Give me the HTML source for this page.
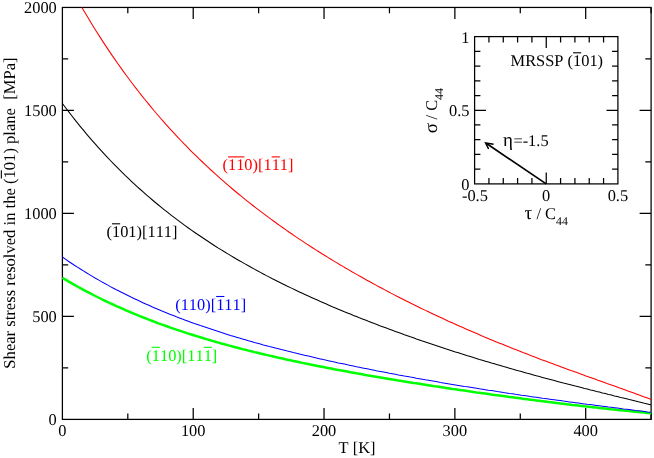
<!DOCTYPE html>
<html><head><meta charset="utf-8"><title>Shear stress vs T</title>
<style>
html,body{margin:0;padding:0;background:#fff;overflow:hidden;}
svg{display:block;}
text{font-kerning:none;text-rendering:geometricPrecision;font-family:"Liberation Serif",serif;font-size:16.4px;fill:#000;}
</style></head><body>
<svg width="654" height="458" viewBox="0 0 654 458">
<rect width="654" height="458" fill="#fff"/>
<g style="mix-blend-mode:multiply">
<g stroke="#000" stroke-width="1.25" fill="none">
<rect x="62.4" y="7.45" width="588.7" height="411.95"/>
<path d="M127.81,419.4v-5.8M127.81,7.45v5.8M193.22,419.4v-11.5M193.22,7.45v11.5M258.63,419.4v-5.8M258.63,7.45v5.8M324.04,419.4v-11.5M324.04,7.45v11.5M389.46,419.4v-5.8M389.46,7.45v5.8M454.87,419.4v-11.5M454.87,7.45v11.5M520.28,419.4v-5.8M520.28,7.45v5.8M585.69,419.4v-11.5M585.69,7.45v11.5M651.10,419.4v-5.8M651.10,7.45v5.8M62.4,367.91h5.8M651.1,367.91h-5.8M62.4,316.41h11.5M651.1,316.41h-11.5M62.4,264.92h5.8M651.1,264.92h-5.8M62.4,213.42h11.5M651.1,213.42h-11.5M62.4,161.93h5.8M651.1,161.93h-5.8M62.4,110.44h11.5M651.1,110.44h-11.5M62.4,58.94h5.8M651.1,58.94h-5.8"/>
</g>
<path d="M62.4,277.8 L65.4,279.6 L68.4,281.4 L71.4,283.1 L74.4,284.8 L77.4,286.5 L80.4,288.1 L83.4,289.8 L86.4,291.4 L89.4,292.9 L92.4,294.5 L95.4,296.0 L98.4,297.5 L101.4,299.0 L104.4,300.5 L107.4,301.9 L110.4,303.3 L113.4,304.7 L116.4,306.1 L119.4,307.4 L122.4,308.7 L125.4,310.1 L128.4,311.3 L131.4,312.6 L134.4,313.9 L137.4,315.1 L140.4,316.3 L143.4,317.5 L146.4,318.7 L149.4,319.9 L152.4,321.0 L155.4,322.1 L158.4,323.3 L161.4,324.4 L164.4,325.4 L167.4,326.5 L170.4,327.6 L173.4,328.6 L176.4,329.6 L179.4,330.6 L182.4,331.6 L185.4,332.6 L188.4,333.6 L191.4,334.5 L194.4,335.5 L197.4,336.4 L200.4,337.3 L203.4,338.2 L206.4,339.1 L209.4,340.0 L212.4,340.9 L215.4,341.8 L218.4,342.6 L221.4,343.5 L224.4,344.3 L227.4,345.1 L230.4,345.9 L233.4,346.7 L236.4,347.5 L239.4,348.3 L242.4,349.1 L245.4,349.8 L248.4,350.6 L251.4,351.3 L254.4,352.1 L257.4,352.8 L260.4,353.5 L263.4,354.2 L266.4,354.9 L269.4,355.6 L272.4,356.3 L275.4,357.0 L278.4,357.7 L281.4,358.3 L284.4,359.0 L287.4,359.7 L290.4,360.3 L293.4,361.0 L296.4,361.6 L299.4,362.2 L302.4,362.9 L305.4,363.5 L308.4,364.1 L311.4,364.7 L314.4,365.3 L317.4,365.9 L320.4,366.5 L323.4,367.1 L326.4,367.7 L329.4,368.2 L332.4,368.8 L335.4,369.4 L338.4,370.0 L341.4,370.5 L344.4,371.1 L347.4,371.6 L350.4,372.2 L353.4,372.7 L356.4,373.3 L359.4,373.8 L362.4,374.3 L365.4,374.9 L368.4,375.4 L371.4,375.9 L374.4,376.4 L377.4,376.9 L380.4,377.4 L383.4,378.0 L386.4,378.5 L389.4,379.0 L392.4,379.5 L395.4,380.0 L398.4,380.5 L401.4,380.9 L404.4,381.4 L407.4,381.9 L410.4,382.4 L413.4,382.9 L416.4,383.3 L419.4,383.8 L422.4,384.3 L425.4,384.8 L428.4,385.2 L431.4,385.7 L434.4,386.2 L437.4,386.6 L440.4,387.1 L443.4,387.5 L446.4,388.0 L449.4,388.4 L452.4,388.9 L455.4,389.3 L458.4,389.8 L461.4,390.2 L464.4,390.6 L467.4,391.1 L470.4,391.5 L473.4,391.9 L476.4,392.4 L479.4,392.8 L482.4,393.2 L485.4,393.6 L488.4,394.0 L491.4,394.5 L494.4,394.9 L497.4,395.3 L500.4,395.7 L503.4,396.1 L506.4,396.5 L509.4,396.9 L512.4,397.3 L515.4,397.7 L518.4,398.1 L521.4,398.5 L524.4,398.9 L527.4,399.3 L530.4,399.7 L533.4,400.1 L536.4,400.4 L539.4,400.8 L542.4,401.2 L545.4,401.6 L548.4,402.0 L551.4,402.3 L554.4,402.7 L557.4,403.1 L560.4,403.4 L563.4,403.8 L566.4,404.2 L569.4,404.5 L572.4,404.9 L575.4,405.2 L578.4,405.6 L581.4,405.9 L584.4,406.3 L587.4,406.6 L590.4,406.9 L593.4,407.3 L596.4,407.6 L599.4,408.0 L602.4,408.3 L605.4,408.6 L608.4,408.9 L611.4,409.3 L614.4,409.6 L617.4,409.9 L620.4,410.2 L623.4,410.5 L626.4,410.8 L629.4,411.1 L632.4,411.4 L635.4,411.7 L638.4,412.0 L641.4,412.3 L644.4,412.6 L647.4,412.9 L650.4,413.2 L651.1,413.3" stroke="#0f0" stroke-width="2.5" fill="none"/>
<path d="M81.9,7.5 L84.9,12.6 L87.9,17.6 L90.9,22.5 L93.9,27.4 L96.9,32.2 L99.9,36.9 L102.9,41.6 L105.9,46.1 L108.9,50.6 L111.9,55.1 L114.9,59.4 L117.9,63.7 L120.9,67.9 L123.9,72.1 L126.9,76.2 L129.9,80.2 L132.9,84.2 L135.9,88.1 L138.9,92.0 L141.9,95.8 L144.9,99.5 L147.9,103.2 L150.9,106.9 L153.9,110.5 L156.9,114.0 L159.9,117.5 L162.9,120.9 L165.9,124.3 L168.9,127.6 L171.9,130.9 L174.9,134.2 L177.9,137.4 L180.9,140.5 L183.9,143.7 L186.9,146.7 L189.9,149.8 L192.9,152.8 L195.9,155.7 L198.9,158.7 L201.9,161.5 L204.9,164.4 L207.9,167.2 L210.9,170.0 L213.9,172.7 L216.9,175.4 L219.9,178.1 L222.9,180.7 L225.9,183.3 L228.9,185.9 L231.9,188.5 L234.9,191.0 L237.9,193.5 L240.9,195.9 L243.9,198.4 L246.9,200.8 L249.9,203.2 L252.9,205.5 L255.9,207.9 L258.9,210.2 L261.9,212.4 L264.9,214.7 L267.9,216.9 L270.9,219.2 L273.9,221.3 L276.9,223.5 L279.9,225.7 L282.9,227.8 L285.9,229.9 L288.9,232.0 L291.9,234.0 L294.9,236.1 L297.9,238.1 L300.9,240.1 L303.9,242.1 L306.9,244.1 L309.9,246.0 L312.9,248.0 L315.9,249.9 L318.9,251.8 L321.9,253.7 L324.9,255.5 L327.9,257.4 L330.9,259.2 L333.9,261.1 L336.9,262.9 L339.9,264.7 L342.9,266.4 L345.9,268.2 L348.9,269.9 L351.9,271.7 L354.9,273.4 L357.9,275.1 L360.9,276.8 L363.9,278.5 L366.9,280.2 L369.9,281.8 L372.9,283.5 L375.9,285.1 L378.9,286.7 L381.9,288.3 L384.9,289.9 L387.9,291.5 L390.9,293.1 L393.9,294.6 L396.9,296.2 L399.9,297.7 L402.9,299.2 L405.9,300.8 L408.9,302.3 L411.9,303.8 L414.9,305.2 L417.9,306.7 L420.9,308.2 L423.9,309.6 L426.9,311.1 L429.9,312.5 L432.9,313.9 L435.9,315.3 L438.9,316.7 L441.9,318.1 L444.9,319.5 L447.9,320.9 L450.9,322.2 L453.9,323.6 L456.9,324.9 L459.9,326.3 L462.9,327.6 L465.9,328.9 L468.9,330.2 L471.9,331.5 L474.9,332.8 L477.9,334.1 L480.9,335.4 L483.9,336.7 L486.9,337.9 L489.9,339.2 L492.9,340.4 L495.9,341.7 L498.9,342.9 L501.9,344.1 L504.9,345.3 L507.9,346.5 L510.9,347.7 L513.9,348.9 L516.9,350.1 L519.9,351.3 L522.9,352.5 L525.9,353.6 L528.9,354.8 L531.9,355.9 L534.9,357.1 L537.9,358.2 L540.9,359.4 L543.9,360.5 L546.9,361.6 L549.9,362.7 L552.9,363.8 L555.9,365.0 L558.9,366.1 L561.9,367.2 L564.9,368.3 L567.9,369.4 L570.9,370.5 L573.9,371.5 L576.9,372.6 L579.9,373.7 L582.9,374.8 L585.9,375.9 L588.9,376.9 L591.9,378.0 L594.9,379.1 L597.9,380.2 L600.9,381.2 L603.9,382.3 L606.9,383.4 L609.9,384.4 L612.9,385.5 L615.9,386.6 L618.9,387.7 L621.9,388.7 L624.9,389.8 L627.9,390.9 L630.9,392.0 L633.9,393.1 L636.9,394.2 L639.9,395.3 L642.9,396.4 L645.9,397.5 L648.9,398.6 L651.1,399.4" stroke="#f00" stroke-width="1.05" fill="none"/>
<path d="M62.4,103.5 L65.4,107.5 L68.4,111.4 L71.4,115.3 L74.4,119.1 L77.4,122.9 L80.4,126.6 L83.4,130.2 L86.4,133.8 L89.4,137.3 L92.4,140.8 L95.4,144.2 L98.4,147.6 L101.4,150.9 L104.4,154.1 L107.4,157.3 L110.4,160.5 L113.4,163.6 L116.4,166.6 L119.4,169.7 L122.4,172.6 L125.4,175.6 L128.4,178.4 L131.4,181.3 L134.4,184.1 L137.4,186.8 L140.4,189.5 L143.4,192.2 L146.4,194.8 L149.4,197.4 L152.4,200.0 L155.4,202.5 L158.4,205.0 L161.4,207.4 L164.4,209.8 L167.4,212.2 L170.4,214.6 L173.4,216.9 L176.4,219.1 L179.4,221.4 L182.4,223.6 L185.4,225.8 L188.4,228.0 L191.4,230.1 L194.4,232.2 L197.4,234.3 L200.4,236.3 L203.4,238.3 L206.4,240.3 L209.4,242.3 L212.4,244.2 L215.4,246.2 L218.4,248.1 L221.4,249.9 L224.4,251.8 L227.4,253.6 L230.4,255.4 L233.4,257.2 L236.4,259.0 L239.4,260.7 L242.4,262.4 L245.4,264.1 L248.4,265.8 L251.4,267.5 L254.4,269.1 L257.4,270.8 L260.4,272.4 L263.4,274.0 L266.4,275.6 L269.4,277.1 L272.4,278.7 L275.4,280.2 L278.4,281.7 L281.4,283.2 L284.4,284.7 L287.4,286.2 L290.4,287.6 L293.4,289.1 L296.4,290.5 L299.4,291.9 L302.4,293.3 L305.4,294.7 L308.4,296.1 L311.4,297.4 L314.4,298.8 L317.4,300.1 L320.4,301.5 L323.4,302.8 L326.4,304.1 L329.4,305.4 L332.4,306.7 L335.4,307.9 L338.4,309.2 L341.4,310.4 L344.4,311.7 L347.4,312.9 L350.4,314.1 L353.4,315.4 L356.4,316.6 L359.4,317.8 L362.4,318.9 L365.4,320.1 L368.4,321.3 L371.4,322.4 L374.4,323.6 L377.4,324.7 L380.4,325.9 L383.4,327.0 L386.4,328.1 L389.4,329.2 L392.4,330.3 L395.4,331.4 L398.4,332.5 L401.4,333.6 L404.4,334.7 L407.4,335.7 L410.4,336.8 L413.4,337.8 L416.4,338.9 L419.4,339.9 L422.4,341.0 L425.4,342.0 L428.4,343.0 L431.4,344.0 L434.4,345.0 L437.4,346.0 L440.4,347.0 L443.4,348.0 L446.4,349.0 L449.4,349.9 L452.4,350.9 L455.4,351.9 L458.4,352.8 L461.4,353.8 L464.4,354.7 L467.4,355.7 L470.4,356.6 L473.4,357.5 L476.4,358.4 L479.4,359.4 L482.4,360.3 L485.4,361.2 L488.4,362.1 L491.4,363.0 L494.4,363.8 L497.4,364.7 L500.4,365.6 L503.4,366.5 L506.4,367.3 L509.4,368.2 L512.4,369.1 L515.4,369.9 L518.4,370.8 L521.4,371.6 L524.4,372.4 L527.4,373.3 L530.4,374.1 L533.4,374.9 L536.4,375.8 L539.4,376.6 L542.4,377.4 L545.4,378.2 L548.4,379.0 L551.4,379.8 L554.4,380.6 L557.4,381.4 L560.4,382.2 L563.4,383.0 L566.4,383.7 L569.4,384.5 L572.4,385.3 L575.4,386.1 L578.4,386.8 L581.4,387.6 L584.4,388.4 L587.4,389.1 L590.4,389.9 L593.4,390.6 L596.4,391.4 L599.4,392.1 L602.4,392.9 L605.4,393.6 L608.4,394.4 L611.4,395.1 L614.4,395.9 L617.4,396.6 L620.4,397.4 L623.4,398.1 L626.4,398.8 L629.4,399.6 L632.4,400.3 L635.4,401.0 L638.4,401.8 L641.4,402.5 L644.4,403.3 L647.4,404.0 L650.4,404.7 L651.1,404.9" stroke="#000" stroke-width="1.05" fill="none"/>
<path d="M62.4,257.0 L65.4,259.1 L68.4,261.2 L71.4,263.2 L74.4,265.2 L77.4,267.1 L80.4,269.0 L83.4,270.9 L86.4,272.8 L89.4,274.6 L92.4,276.4 L95.4,278.2 L98.4,279.9 L101.4,281.6 L104.4,283.3 L107.4,284.9 L110.4,286.6 L113.4,288.2 L116.4,289.8 L119.4,291.3 L122.4,292.8 L125.4,294.3 L128.4,295.8 L131.4,297.3 L134.4,298.7 L137.4,300.1 L140.4,301.5 L143.4,302.9 L146.4,304.3 L149.4,305.6 L152.4,306.9 L155.4,308.2 L158.4,309.5 L161.4,310.8 L164.4,312.0 L167.4,313.2 L170.4,314.4 L173.4,315.6 L176.4,316.8 L179.4,317.9 L182.4,319.1 L185.4,320.2 L188.4,321.3 L191.4,322.4 L194.4,323.5 L197.4,324.5 L200.4,325.6 L203.4,326.6 L206.4,327.6 L209.4,328.6 L212.4,329.6 L215.4,330.6 L218.4,331.6 L221.4,332.6 L224.4,333.5 L227.4,334.4 L230.4,335.4 L233.4,336.3 L236.4,337.2 L239.4,338.1 L242.4,338.9 L245.4,339.8 L248.4,340.7 L251.4,341.5 L254.4,342.4 L257.4,343.2 L260.4,344.0 L263.4,344.9 L266.4,345.7 L269.4,346.5 L272.4,347.2 L275.4,348.0 L278.4,348.8 L281.4,349.6 L284.4,350.3 L287.4,351.1 L290.4,351.8 L293.4,352.6 L296.4,353.3 L299.4,354.0 L302.4,354.7 L305.4,355.4 L308.4,356.1 L311.4,356.8 L314.4,357.5 L317.4,358.2 L320.4,358.9 L323.4,359.6 L326.4,360.2 L329.4,360.9 L332.4,361.6 L335.4,362.2 L338.4,362.9 L341.4,363.5 L344.4,364.1 L347.4,364.8 L350.4,365.4 L353.4,366.0 L356.4,366.7 L359.4,367.3 L362.4,367.9 L365.4,368.5 L368.4,369.1 L371.4,369.7 L374.4,370.3 L377.4,370.9 L380.4,371.4 L383.4,372.0 L386.4,372.6 L389.4,373.2 L392.4,373.7 L395.4,374.3 L398.4,374.9 L401.4,375.4 L404.4,376.0 L407.4,376.5 L410.4,377.1 L413.4,377.6 L416.4,378.2 L419.4,378.7 L422.4,379.2 L425.4,379.8 L428.4,380.3 L431.4,380.8 L434.4,381.3 L437.4,381.8 L440.4,382.4 L443.4,382.9 L446.4,383.4 L449.4,383.9 L452.4,384.4 L455.4,384.9 L458.4,385.4 L461.4,385.9 L464.4,386.4 L467.4,386.8 L470.4,387.3 L473.4,387.8 L476.4,388.3 L479.4,388.8 L482.4,389.2 L485.4,389.7 L488.4,390.2 L491.4,390.6 L494.4,391.1 L497.4,391.6 L500.4,392.0 L503.4,392.5 L506.4,392.9 L509.4,393.4 L512.4,393.8 L515.4,394.3 L518.4,394.7 L521.4,395.2 L524.4,395.6 L527.4,396.0 L530.4,396.5 L533.4,396.9 L536.4,397.3 L539.4,397.7 L542.4,398.2 L545.4,398.6 L548.4,399.0 L551.4,399.4 L554.4,399.8 L557.4,400.2 L560.4,400.6 L563.4,401.1 L566.4,401.5 L569.4,401.9 L572.4,402.3 L575.4,402.7 L578.4,403.1 L581.4,403.5 L584.4,403.9 L587.4,404.3 L590.4,404.6 L593.4,405.0 L596.4,405.4 L599.4,405.8 L602.4,406.2 L605.4,406.6 L608.4,407.0 L611.4,407.3 L614.4,407.7 L617.4,408.1 L620.4,408.5 L623.4,408.9 L626.4,409.2 L629.4,409.6 L632.4,410.0 L635.4,410.4 L638.4,410.7 L641.4,411.1 L644.4,411.5 L647.4,411.9 L650.4,412.2 L651.1,412.3" stroke="#00f" stroke-width="1.05" fill="none"/>
<text x="62.4" y="436.2" text-anchor="middle">0</text>
<text x="193.2" y="436.2" text-anchor="middle">100</text>
<text x="324.0" y="436.2" text-anchor="middle">200</text>
<text x="454.9" y="436.2" text-anchor="middle">300</text>
<text x="585.7" y="436.2" text-anchor="middle">400</text>
<text x="56.8" y="425.3" text-anchor="end">0</text>
<text x="56.8" y="322.3" text-anchor="end">500</text>
<text x="56.8" y="219.3" text-anchor="end">1000</text>
<text x="56.8" y="116.3" text-anchor="end">1500</text>
<text x="56.8" y="13.3" text-anchor="end">2000</text>
<text x="357" y="453.3" text-anchor="middle">T [K]</text>
<g transform="translate(14.9,213) rotate(-90)"><text x="-155.64" y="0" xml:space="preserve" style="font-size:16.58px">Shear stress resolved in the (101) plane  [MPa]</text><path d="M34.54,-13.55h8.29" stroke="#000" stroke-width="1.1"/></g>
<text x="222.5" y="170.3" style="fill:#f00" xml:space="preserve">(110)[111]</text><path d="M227.96,156.90h16.40" stroke="#f00" stroke-width="1.1" fill="none"/><path d="M271.68,156.90h8.20" stroke="#f00" stroke-width="1.1" fill="none"/>
<text x="106.5" y="237.2" style="fill:#000" xml:space="preserve">(101)[111]</text><path d="M111.96,223.80h8.20" stroke="#000" stroke-width="1.1" fill="none"/>
<text x="175.2" y="309.9" style="fill:#00f" xml:space="preserve">(110)[111]</text><path d="M216.18,296.50h8.20" stroke="#00f" stroke-width="1.1" fill="none"/>
<text x="146.3" y="360.7" style="fill:#0f0" xml:space="preserve">(110)[111]</text><path d="M151.76,347.30h8.20" stroke="#0f0" stroke-width="1.1" fill="none"/><path d="M203.68,347.30h8.20" stroke="#0f0" stroke-width="1.1" fill="none"/>
<g stroke="#000" stroke-width="1.25" fill="none">
<rect x="474.6" y="36.6" width="143.29999999999995" height="147.3" fill="#fff"/>
<path d="M488.93,183.9v-5.8M488.93,36.6v5.8M474.6,169.17h5.8M617.9,169.17h-5.8M503.26,183.9v-5.8M503.26,36.6v5.8M474.6,154.44h5.8M617.9,154.44h-5.8M517.59,183.9v-5.8M517.59,36.6v5.8M474.6,139.71h5.8M617.9,139.71h-5.8M531.92,183.9v-5.8M531.92,36.6v5.8M474.6,124.98h5.8M617.9,124.98h-5.8M546.25,183.9v-11.4M546.25,36.6v11.4M474.6,110.25h11.4M617.9,110.25h-11.4M560.58,183.9v-5.8M560.58,36.6v5.8M474.6,95.52h5.8M617.9,95.52h-5.8M574.91,183.9v-5.8M574.91,36.6v5.8M474.6,80.79h5.8M617.9,80.79h-5.8M589.24,183.9v-5.8M589.24,36.6v5.8M474.6,66.06h5.8M617.9,66.06h-5.8M603.57,183.9v-5.8M603.57,36.6v5.8M474.6,51.33h5.8M617.9,51.33h-5.8"/>
</g>
<g stroke="#000" stroke-width="1.7" fill="none" stroke-linecap="butt"><path d="M546.2,183.9 L486.2,143.3"/><path d="M488.6,149 L485.6,142.9 L493.6,144.2" stroke-width="1.5"/></g>
<text x="510.6" y="66.2" style="fill:#000" xml:space="preserve">MRSSP (101)</text><path d="M573.03,52.80h8.20" stroke="#000" stroke-width="1.1" fill="none"/>
<text x="503.1" y="146.1" style="font-size:19px">η</text><text x="513.4" y="146.1">=-1.5</text>
<text x="469.5" y="42.7" text-anchor="end">1</text>
<text x="469.5" y="116.2" text-anchor="end">0.5</text>
<text x="469.5" y="189.6" text-anchor="end">0</text>
<text x="474.9" y="201.2" text-anchor="middle">-0.5</text>
<text x="546.2" y="201.2" text-anchor="middle">0</text>
<text x="617.9" y="201.2" text-anchor="middle">0.5</text>
<text x="524.5" y="218.9" style="font-size:19px">τ</text><text x="532.3" y="218.9" xml:space="preserve"> / C<tspan dy="6.1" font-size="11.9">44</tspan></text>
<g transform="translate(437,133.2) rotate(-90)"><text x="0" y="0" style="font-size:19px">σ</text><text x="9.6" y="0" xml:space="preserve"> / C<tspan dy="6.1" font-size="11.9">44</tspan></text></g>
</g>
</svg>
</body></html>
